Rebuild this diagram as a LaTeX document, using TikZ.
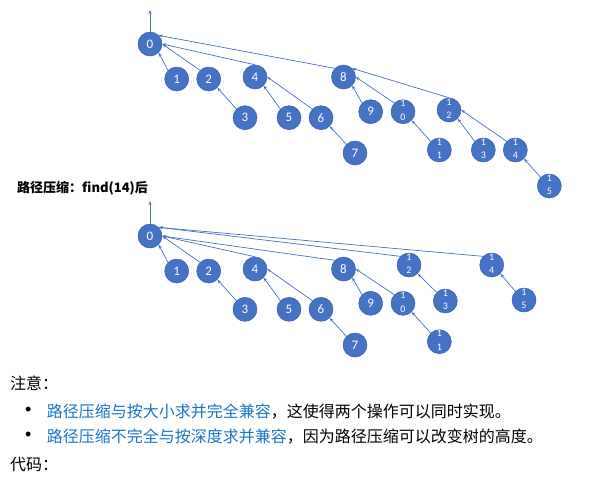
\documentclass[tikz,border=0pt]{standalone}
\usepackage{fontspec}
\usetikzlibrary{arrows.meta}
\setmainfont{Noto Sans CJK SC}
\newfontfamily\cjk{Noto Sans CJK SC}
\newfontfamily\digitfont{Carlito}
\newfontfamily\bulletfont{Liberation Sans}
\definecolor{nodeblue}{RGB}{68,114,196}
\definecolor{nodeedge}{RGB}{55,95,170}
\definecolor{linkblue}{RGB}{28,116,200}
\newcommand{\stk}[2]{\begin{tabular}{@{}c@{}}\rule{0pt}{7pt}#1\\[3.5pt]#2\end{tabular}}
\begin{document}
\begin{tikzpicture}[x=1pt,y=-1pt,
  tn/.style={circle,minimum size=24pt,inner sep=0pt,fill=nodeblue,draw=nodeedge,line width=0.5pt,
    text=white,font=\digitfont\fontsize{13}{13}\selectfont},
  tw/.style={tn,font=\digitfont\fontsize{10}{10}\selectfont},
  ar/.style={draw=nodeblue,line width=0.7pt,-{Stealth[length=4pt,width=3pt]}},
  txt/.style={anchor=west,inner sep=0pt,font=\cjk\fontsize{16}{16}\selectfont}]
\useasboundingbox (0,0) rectangle (601,479);
% ---------- top tree ----------
\node[tn] (a0) at (150,44) {0};
\node[tn] (a1) at (176.7,79) {1};
\node[tn] (a2) at (208.7,79) {2};
\node[tn] (a3) at (245,117.7) {3};
\node[tn] (a4) at (255,77) {4};
\node[tn] (a5) at (289,117.7) {5};
\node[tn] (a6) at (321,117.7) {6};
\node[tn] (a7) at (355,153) {7};
\node[tn] (a8) at (343.5,77) {8};
\node[tn] (a9) at (370.7,111.7) {9};
\node[tw] (a10) at (403,111.7) {\stk{1}{0}};
\node[tw] (a11) at (439.3,150) {\stk{1}{1}};
\node[tw] (a12) at (449,110) {\stk{1}{2}};
\node[tw] (a13) at (483.3,150) {\stk{1}{3}};
\node[tw] (a14) at (515.3,150) {\stk{1}{4}};
\node[tw] (a15) at (549.3,186) {\stk{1}{5}};
\coordinate (at) at (150,10);
\draw[ar] (a0.north) -- (at);
\draw[ar] (a1.north west) -- (a0.south east);
\draw[ar] (a2.north west) -- (a0.east);
\draw[ar] (a4.north) -- (a0.east);
\draw[ar] (a8.north west) -- (a0.north east);
\draw[ar] (a3.north west) -- (a2.south east);
\draw[ar] (a5.north west) -- (a4.south east);
\draw[ar] (a6.north west) -- (a4.east);
\draw[ar] (a7.north west) -- (a6.south east);
\draw[ar] (a9.north west) -- (a8.south east);
\draw[ar] (a10.north west) -- (a8.east);
\draw[ar] (a12.north) -- (a8.north east);
\draw[ar] (a11.north west) -- (a10.south east);
\draw[ar] (a13.north west) -- (a12.south east);
\draw[ar] (a14.north west) -- (a12.east);
\draw[ar] (a15.north west) -- (a14.south east);
% ---------- heading ----------
\node[anchor=west,inner sep=0pt,font=\cjk\bfseries\fontsize{13}{13}\selectfont] (hd) at (17,188) {路径压缩：find(14)后};
% ---------- bottom tree ----------
\node[tn] (b0) at (150,236) {0};
\node[tn] (b1) at (176.7,271) {1};
\node[tn] (b2) at (208.7,271) {2};
\node[tn] (b3) at (245,309.3) {3};
\node[tn] (b4) at (255,269) {4};
\node[tn] (b5) at (289,309.3) {5};
\node[tn] (b6) at (321,309.3) {6};
\node[tn] (b7) at (355,345) {7};
\node[tn] (b8) at (343.5,269) {8};
\node[tn] (b9) at (370.7,303.3) {9};
\node[tw] (b10) at (403,303.3) {\stk{1}{0}};
\node[tw] (b11) at (439.3,341.7) {\stk{1}{1}};
\node[tw] (b12) at (409,265) {\stk{1}{2}};
\node[tw] (b13) at (445.3,301) {\stk{1}{3}};
\node[tw] (b14) at (491.7,265) {\stk{1}{4}};
\node[tw] (b15) at (524,300) {\stk{1}{5}};
\coordinate (bt) at (150,201);
\draw[ar] (b0.north) -- (bt);
\draw[ar] (b1.north west) -- (b0.south east);
\draw[ar] (b2.north west) -- (b0.east);
\draw[ar] (b4.north) -- (b0.east);
\draw[ar] (b8.north west) -- (b0.east);
\draw[ar] (b12.north west) -- (b0.north east);
\draw[ar] (b14.north west) -- (b0.north east);
\draw[ar] (b3.north west) -- (b2.south east);
\draw[ar] (b5.north west) -- (b4.south east);
\draw[ar] (b6.north west) -- (b4.east);
\draw[ar] (b7.north west) -- (b6.south east);
\draw[ar] (b9.north west) -- (b8.south east);
\draw[ar] (b10.north west) -- (b8.east);
\draw[ar] (b11.north west) -- (b10.south east);
\draw[ar] (b13.north west) -- (b12.south east);
\draw[ar] (b15.north west) -- (b14.south east);
% ---------- notes ----------
\node[txt] (n0) at (10,383.3) {注意：};
\node[inner sep=0pt,font=\bulletfont\fontsize{18}{18}\selectfont] (d1) at (28.3,411.7) {•};
\node[txt] (l1) at (46.7,411.7) {\textcolor{linkblue}{路径压缩与按大小求并完全兼容}，这使得两个操作可以同时实现。};
\node[inner sep=0pt,font=\bulletfont\fontsize{18}{18}\selectfont] (d2) at (28.3,436.7) {•};
\node[txt] (l2) at (46.7,436.7) {\textcolor{linkblue}{路径压缩不完全与按深度求并兼容}，因为路径压缩可以改变树的高度。};
\node[txt] (n1) at (10,465) {代码：};
\end{tikzpicture}
\end{document}
